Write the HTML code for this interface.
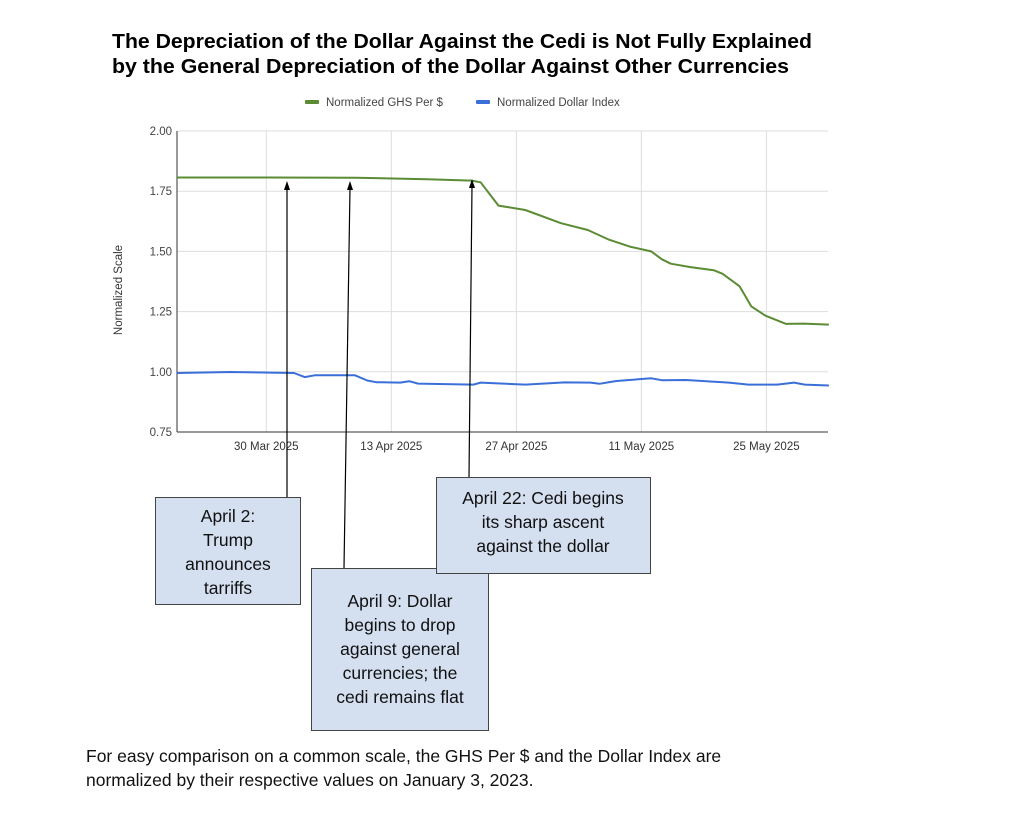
<!DOCTYPE html>
<html><head><meta charset="utf-8"><style>
html,body{margin:0;padding:0;background:#fff;}
svg{display:block;font-family:"Liberation Sans",Arial,sans-serif;}
</style></head><body>
<svg width="1024" height="824" viewBox="0 0 1024 824">
<g font-weight="bold" font-size="20" fill="#000">
<text x="112" y="48" textLength="700" lengthAdjust="spacingAndGlyphs">The Depreciation of the Dollar Against the Cedi is Not Fully Explained</text>
<text x="112" y="73" textLength="677" lengthAdjust="spacingAndGlyphs">by the General Depreciation of the Dollar Against Other Currencies</text>
</g>
<g font-size="11.5" fill="#444">
<g><rect x="305" y="100" width="14" height="4" rx="1" fill="#5b8c34"/><text x="326" y="106">Normalized GHS Per $</text></g>
<g><rect x="476" y="100" width="14" height="4" rx="1" fill="#3a6fd8"/><text x="497" y="106">Normalized Dollar Index</text></g>
</g>
<g id="grid"></g>
<g id="axes"></g>
<g id="series"></g>
<text transform="translate(122,290) rotate(-90)" text-anchor="middle" font-size="11.5" fill="#333">Normalized Scale</text>
<g stroke="#000" stroke-width="1.2" fill="#000">
<line x1="287" y1="497" x2="287" y2="188"/><polygon points="287,181 284,190 290,190" stroke="none"/>
<line x1="344" y1="568" x2="350" y2="188"/><polygon points="350,181 347,190 353,190" stroke="none"/>
<line x1="469" y1="477" x2="472" y2="186"/><polygon points="472,179 469,188 475,188" stroke="none"/>
</g>
<g font-size="17.5" fill="#111" text-anchor="middle">
<g>
<rect x="155.5" y="497.5" width="145" height="107" fill="#d4dff0" stroke="#444" stroke-width="1"/>
<text x="228" y="522">April 2:</text><text x="228" y="546">Trump</text><text x="228" y="570">announces</text><text x="228" y="594">tarriffs</text>
</g>
<g>
<rect x="311.5" y="568.5" width="177" height="162" fill="#d4dff0" stroke="#444" stroke-width="1"/>
<text x="400" y="607">April 9: Dollar</text><text x="400" y="631">begins to drop</text><text x="400" y="655">against general</text><text x="400" y="679">currencies; the</text><text x="400" y="703">cedi remains flat</text>
</g>
<g>
<rect x="436.5" y="477.5" width="214" height="96" fill="#d4dff0" stroke="#444" stroke-width="1"/>
<text x="543" y="504">April 22: Cedi begins</text><text x="543" y="528">its sharp ascent</text><text x="543" y="552">against the dollar</text>
</g>
</g>
<g font-size="17.5" fill="#111">
<text x="86" y="762">For easy comparison on a common scale, the GHS Per $ and the Dollar Index are</text>
<text x="86" y="786">normalized by their respective values on January 3, 2023.</text>
</g>
</svg>
<script>
// Days counted from 20 Mar 2025 (day 0)
const ghsDays = [0,10,20,28,33,34,36,39,43,46,48.3,50.7,53.1,54.3,55.3,57.5,60.1,61.1,63,64.3,65.9,68.2,70.2,73];
const ghsValues = [1.807,1.807,1.806,1.80,1.794,1.787,1.69,1.672,1.617,1.589,1.55,1.52,1.50,1.467,1.449,1.435,1.422,1.407,1.355,1.272,1.233,1.199,1.20,1.196];
const dxyDays = [0,6,13.1,14.3,15.5,19.9,21.3,22.3,25,26,27,33.2,34,39,43.4,46.3,47.3,49.2,53.1,54.3,57,61.8,64,67.2,69.1,70.3,73];
const dxyValues = [0.995,0.999,0.995,0.978,0.986,0.986,0.964,0.957,0.955,0.961,0.951,0.947,0.955,0.947,0.956,0.955,0.95,0.962,0.973,0.965,0.966,0.955,0.947,0.947,0.955,0.947,0.943];
const yTicks = [0.75,1.00,1.25,1.50,1.75,2.00];
const xTickDays = [10,24,38,52,66];
const xTickLabels = ["30 Mar 2025","13 Apr 2025","27 Apr 2025","11 May 2025","25 May 2025"];

const X0=177,X1=828,Y0=432,Y1=131,D0=0,D1=72.9,V0=0.75,V1=2.0;
const xs=d=>X0+(d-D0)/(D1-D0)*(X1-X0);
const ys=v=>Y0-(v-V0)/(V1-V0)*(Y0-Y1);
const NS="http://www.w3.org/2000/svg";
function mk(tag,attrs,parent){const e=document.createElementNS(NS,tag);for(const k in attrs)e.setAttribute(k,attrs[k]);parent.appendChild(e);return e;}
const grid=document.getElementById('grid'),axes=document.getElementById('axes'),series=document.getElementById('series');
yTicks.forEach(v=>{
  const l=mk('line',{x1:X0,x2:X1,y1:ys(v),y2:ys(v),stroke:'#ddd','stroke-width':1},grid);
  
  
  const t=mk('text',{x:X0-5,y:ys(v)+4,'text-anchor':'end','font-size':11.5,fill:'#444'},axes);
  t.textContent=v.toFixed(2);
  
  
});
xTickDays.forEach((d,i)=>{
  const l=mk('line',{x1:xs(d),x2:xs(d),y1:Y1,y2:Y0,stroke:'#ddd','stroke-width':1},grid);
  
  
  const t=mk('text',{x:xs(d),y:Y0+18,'text-anchor':'middle','font-size':11.5,fill:'#333'},axes);
  t.textContent=xTickLabels[i];
  
  
});
const ax=mk('line',{x1:X0,x2:X0,y1:Y1,y2:Y0,stroke:'#333','stroke-width':1},axes);


const bx=mk('line',{x1:X0,x2:X1,y1:Y0,y2:Y0,stroke:'#333','stroke-width':1},axes);


function pts(ds,vs){return ds.map((d,i)=>xs(d).toFixed(1)+','+ys(vs[i]).toFixed(1)).join(' ');}
const g=mk('polyline',{points:pts(ghsDays,ghsValues),fill:'none',stroke:'#5b8c34','stroke-width':2,'stroke-linejoin':'round'},series);


const b=mk('polyline',{points:pts(dxyDays,dxyValues),fill:'none',stroke:'#3a6fd8','stroke-width':2,'stroke-linejoin':'round'},series);


</script>
</body></html>
